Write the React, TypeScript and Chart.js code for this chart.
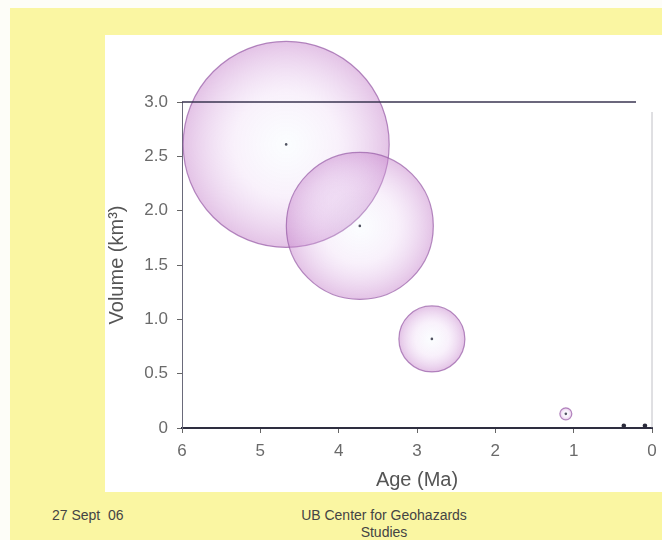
import React, { useEffect, useRef } from "react";
import { Chart, registerables } from "chart.js";

Chart.register(...registerables);

const ages = [4.67, 3.73, 2.81, 1.1, 0.36, 0.09];
const volumes = [2.61, 1.86, 0.82, 0.13, 0.02, 0.02];
const bubbleSizes = [103, 73.5, 33, 6, 0, 0];
const dotSizes = [1.3, 1.3, 1.3, 1.3, 2.3, 2.3];
const xTicks = [6, 5, 4, 3, 2, 1, 0];
const yTicks = [0, 0.5, 1.0, 1.5, 2.0, 2.5, 3.0];

const frame = {
  id: "frame",
  afterDatasetsDraw(chart: any) {
    const { ctx, chartArea } = chart;
    ctx.save();
    ctx.strokeStyle = "#3a3550";
    ctx.lineWidth = 1.5;
    ctx.beginPath();
    ctx.moveTo(chartArea.left, chartArea.top);
    ctx.lineTo(chartArea.right - 16, chartArea.top);
    ctx.stroke();
    ctx.strokeStyle = "rgba(150,150,160,0.6)";
    ctx.lineWidth = 1;
    ctx.beginPath();
    ctx.moveTo(chartArea.right, chartArea.top + 10);
    ctx.lineTo(chartArea.right, chartArea.bottom);
    ctx.stroke();
    ctx.restore();
  },
};

export default function App() {
  const ref = useRef<HTMLCanvasElement>(null);
  useEffect(() => {
    document.body.style.margin = "0";
    const bubbleData = ages.map((a, i) => ({ x: a, y: volumes[i], r: bubbleSizes[i] }));
    const dotData = ages.map((a, i) => ({ x: a, y: volumes[i], r: dotSizes[i] }));
    const chart = new Chart(ref.current!, {
      type: "bubble",
      data: {
        datasets: [
          {
            data: bubbleData,
            clip: false as any,
            borderWidth: 1.2,
            borderColor: "rgba(150,90,165,0.7)",
            backgroundColor: (c: any) => {
              const ch = c.chart;
              const raw = c.raw;
              const fallback = "rgba(210,170,225,0.35)";
              if (!raw || !ch.scales || !ch.scales.x || !ch.scales.y) return fallback;
              const px = ch.scales.x.getPixelForValue(raw.x);
              const py = ch.scales.y.getPixelForValue(raw.y);
              const r = Math.max(raw.r, 1);
              if (!isFinite(px) || !isFinite(py) || !isFinite(r)) return fallback;
              const g = ch.ctx.createRadialGradient(px, py, 0, px, py, r);
              g.addColorStop(0, "rgba(235,248,255,0.2)");
              g.addColorStop(0.5, "rgba(230,200,240,0.25)");
              g.addColorStop(1, "rgba(200,135,205,0.5)");
              return g;
            },
          } as any,
          {
            data: dotData,
            clip: false as any,
            borderWidth: 0,
            backgroundColor: "#2a2a3a",
          } as any,
        ],
      },
      options: {
        animation: false,
        responsive: false,
        events: [],
        layout: { autoPadding: false, padding: { top: 67, right: 10, left: 0, bottom: 0 } },
        plugins: { legend: { display: false }, tooltip: { enabled: false } },
        scales: {
          x: {
            type: "linear",
            reverse: true,
            min: 0,
            max: 6,
            afterFit: (s: any) => {
              s.height = 64;
              s.paddingLeft = 0;
              s.paddingRight = 0;
            },
            afterBuildTicks: (s: any) => {
              s.ticks = xTicks.map((v) => ({ value: v }));
            },
            grid: { drawOnChartArea: false, tickLength: 5, color: "#666" },
            border: { color: "#2e2e40", width: 2 },
            ticks: {
              color: "#6a6a6a",
              font: { family: "Liberation Sans", size: 17 },
              padding: 8,
            },
            title: {
              display: true,
              text: "Age (Ma)",
              color: "#555",
              font: { family: "Liberation Sans", size: 20 },
              padding: { top: 0, bottom: 0 },
            },
          },
          y: {
            type: "linear",
            min: 0,
            max: 3,
            afterFit: (s: any) => {
              s.width = 77;
              s.paddingTop = 0;
              s.paddingBottom = 0;
            },
            afterBuildTicks: (s: any) => {
              s.ticks = yTicks.map((v) => ({ value: v }));
            },
            grid: { drawOnChartArea: false, tickLength: 5, color: "#666" },
            border: { color: "#6a6a7a", width: 1 },
            ticks: {
              color: "#6a6a6a",
              font: { family: "Liberation Sans", size: 17 },
              padding: 9,
              callback: (v: any) => (v === 0 ? "0" : Number(v).toFixed(1)),
            },
            title: {
              display: true,
              text: "Volume (km³)",
              color: "#555",
              font: { family: "Liberation Sans", size: 20 },
              padding: { top: 0, bottom: 0 },
            },
          },
        },
      },
      plugins: [frame],
    });
    return () => chart.destroy();
  }, []);

  return (
    <div
      style={{
        position: "absolute",
        left: 0,
        top: 0,
        width: 662,
        height: 540,
        background: "#fdfdf8",
        overflow: "hidden",
        fontFamily: "Liberation Sans, Arial, sans-serif",
      }}
    >
      <div
        style={{
          position: "absolute",
          left: 10,
          top: 8,
          width: 652,
          height: 532,
          background: "#faf6a2",
        }}
      />
      <div
        style={{
          position: "absolute",
          left: 105,
          top: 35,
          width: 557,
          height: 457,
          background: "#ffffff",
        }}
      >
        <canvas ref={ref} width={557} height={457} style={{ display: "block" }} />
      </div>
      <div
        style={{
          position: "absolute",
          left: 52,
          top: 507,
          fontSize: 14,
          lineHeight: "17px",
          color: "#444",
          whiteSpace: "pre",
        }}
      >
        27 Sept  06
      </div>
      <div
        style={{
          position: "absolute",
          left: 264,
          top: 507,
          width: 240,
          textAlign: "center",
          fontSize: 14,
          lineHeight: "17px",
          color: "#444",
        }}
      >
        UB Center for Geohazards
        <br />
        Studies
      </div>
    </div>
  );
}
